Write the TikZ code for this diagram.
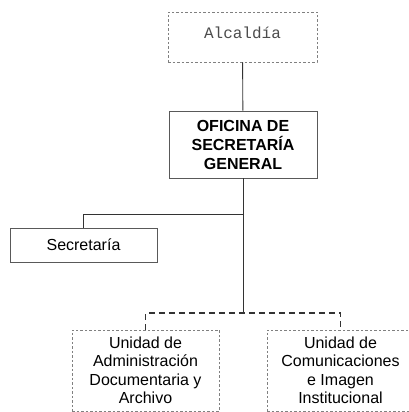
\documentclass[tikz,border=0pt]{standalone}
\usepackage{fontspec}
\setmainfont{Liberation Sans}
\newfontfamily\monofont{Liberation Mono}
\usetikzlibrary{positioning}

\tikzset{
  unitbox/.style={draw=black!65, line width=0.9pt, align=center, inner sep=0pt,
    minimum width=147pt, font=\fontsize{16}{18.5}\selectfont},
  dashbox/.style={unitbox, draw=black!50, dash pattern=on 2.5pt off 2pt},
  link/.style={draw=black!80, line width=0.9pt},
  dashlink/.style={link, line width=1.1pt, dash pattern=on 6pt off 4pt}
}

\begin{document}
\begin{tikzpicture}[x=1pt, y=1pt]
  \useasboundingbox (0,0) rectangle (409,412);

  % Boxes
  \node[dashbox, minimum width=149pt, minimum height=50pt, text=black!70, text depth=9pt,
        font=\monofont\fontsize{16}{18}\selectfont] (alcaldia) at (242.5,375) {Alcaldía};
  \node[unitbox, minimum width=148pt, minimum height=67pt,
        font=\bfseries\fontsize{16}{19}\selectfont] (oficina) at (243,267.5)
        {OFICINA DE\\SECRETARÍA\\GENERAL};
  \node[unitbox, minimum height=34pt] (secretaria) at (83.5,167) {Secretaría};
  \node[dashbox, minimum height=81pt] (unidad1) at (145.5,41.5)
        {Unidad de\\Administración\\Documentaria y\\Archivo};
  \node[dashbox, minimum height=81pt] (unidad2) at (340.5,41.5)
        {Unidad de\\Comunicaciones\\e Imagen\\Institucional};

  % Branch points
  \coordinate (branch) at (oficina.south |- 0,198);
  \coordinate (junction) at (oficina.south |- 0,99);

  % Connectors
  \draw[link] (alcaldia) -- (oficina);
  \draw[link] (oficina.south) -- (junction);
  \draw[link] (branch) -| (secretaria.north);
  \draw[dashlink] (unidad1.north) |- (junction) -| (unidad2.north);
\end{tikzpicture}
\end{document}
